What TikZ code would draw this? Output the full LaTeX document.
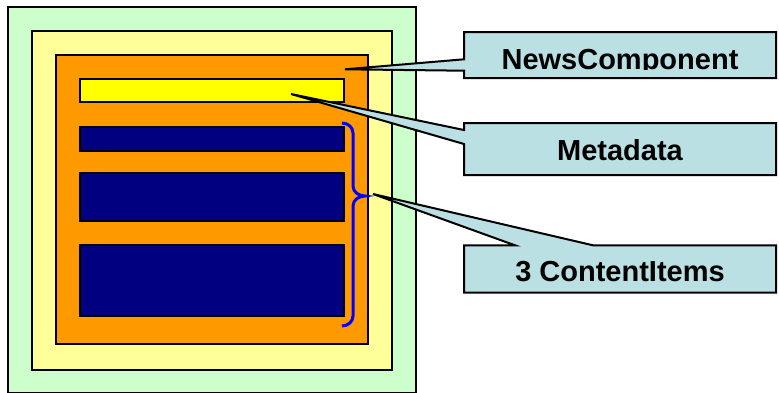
\documentclass[tikz,border=0pt]{standalone}
\usepackage{fontspec}
\setmainfont{Liberation Sans}
\usetikzlibrary{calc}

\definecolor{mintgreen}{HTML}{CCFFCC}
\definecolor{paleyellow}{HTML}{FFFF99}
\definecolor{deeporange}{HTML}{FF9900}
\definecolor{brightyellow}{HTML}{FFFF00}
\definecolor{darknavy}{HTML}{000080}
\definecolor{calloutfill}{HTML}{BBE0E3}
\definecolor{bracecolor}{HTML}{0000FF}

\tikzset{
  layerbox/.style={rectangle, draw=black, line width=2pt, inner sep=0pt, outer sep=0pt},
  calloutbox/.style={rectangle, inner sep=0pt, outer sep=0pt, minimum width=312pt},
  calloutline/.style={draw=black, fill=calloutfill, line width=2pt, line join=miter},
  labeltext/.style={inner sep=0pt, anchor=base, font=\bfseries\fontsize{29}{34}\selectfont},
  bracestroke/.style={draw=bracecolor, line width=3pt}
}

\begin{document}
\begin{tikzpicture}[x=1pt, y=-1pt]
  \useasboundingbox (0,0) rectangle (779,392);

  % nested containers (the outer one runs off the bottom edge)
  \node[layerbox, fill=mintgreen, minimum width=408pt, minimum height=385.5pt] (outer) at (212,199.75) {};
  \node[layerbox, fill=paleyellow, minimum width=360pt, minimum height=338.5pt] (middle) at (212,200.25) {};
  \node[layerbox, fill=deeporange, minimum width=312pt, minimum height=289pt] (news) at (212,199.5) {};

  % metadata bar and the three content items
  \node[layerbox, fill=brightyellow, minimum width=264pt, minimum height=23pt] (meta) at (212,90.5) {};
  \node[layerbox, fill=darknavy, minimum width=264pt, minimum height=24pt] (item1) at (212,139) {};
  \node[layerbox, fill=darknavy, minimum width=264pt, minimum height=47.5pt] (item2) at (212,196.75) {};
  \node[layerbox, fill=darknavy, minimum width=264pt, minimum height=71pt] (item3) at (212,280.5) {};

  % curly brace grouping the content items
  \coordinate (braceTop) at (342,123);
  \coordinate (braceTip) at (365,196);
  \coordinate (braceBot) at (342,326);
  \draw[bracestroke] (braceTop) to[out=0, in=90] (353,133) -- (353,186)
    to[out=-90, in=180] (braceTip) to[out=180, in=90] (353,206)
    -- (353,316) to[out=-90, in=0] (braceBot);

  % callout boxes
  \node[calloutbox, minimum height=46pt] (ncBox) at (620,55) {};
  \node[calloutbox, minimum height=52pt] (mdBox) at (620,149) {};
  \node[calloutbox, minimum height=47.4pt] (ciBox) at (620,269) {};

  % pointer tips and pointer bases
  \coordinate (ncTip) at (345,69.3);
  \coordinate (ncA) at (464,59.3);
  \coordinate (ncB) at (464,70.7);
  \coordinate (mdTip) at (291,94);
  \coordinate (mdA) at (464,130);
  \coordinate (mdB) at (464,144);
  \coordinate (ciTip) at (373,194);
  \coordinate (ciA) at (515,245.3);
  \coordinate (ciB) at (593,245.3);

  % callout outlines with their pointers
  \path[calloutline] (ncBox.north west) -- (ncBox.north east) -- (ncBox.south east)
    -- (ncBox.south west) -- (ncB) -- (ncTip) -- (ncA) -- cycle;
  \path[calloutline] (mdBox.north west) -- (mdBox.north east) -- (mdBox.south east)
    -- (mdBox.south west) -- (mdB) -- (mdTip) -- (mdA) -- cycle;
  \path[calloutline] (ciBox.north west) -- (ciA) -- (ciTip) -- (ciB)
    -- (ciBox.north east) -- (ciBox.south east) -- (ciBox.south west) -- cycle;

  % callout labels (the first one is cut off at its baseline)
  \begin{scope}
    \clip (ncBox.north west) rectangle (776,69.3);
    \node[labeltext] (ncLabel) at (620,69.3) {NewsComponent};
  \end{scope}
  \node[labeltext] (mdLabel) at (620,160) {Metadata};
  \node[labeltext] (ciLabel) at (620,281.7) {3 ContentItems};
\end{tikzpicture}
\end{document}
